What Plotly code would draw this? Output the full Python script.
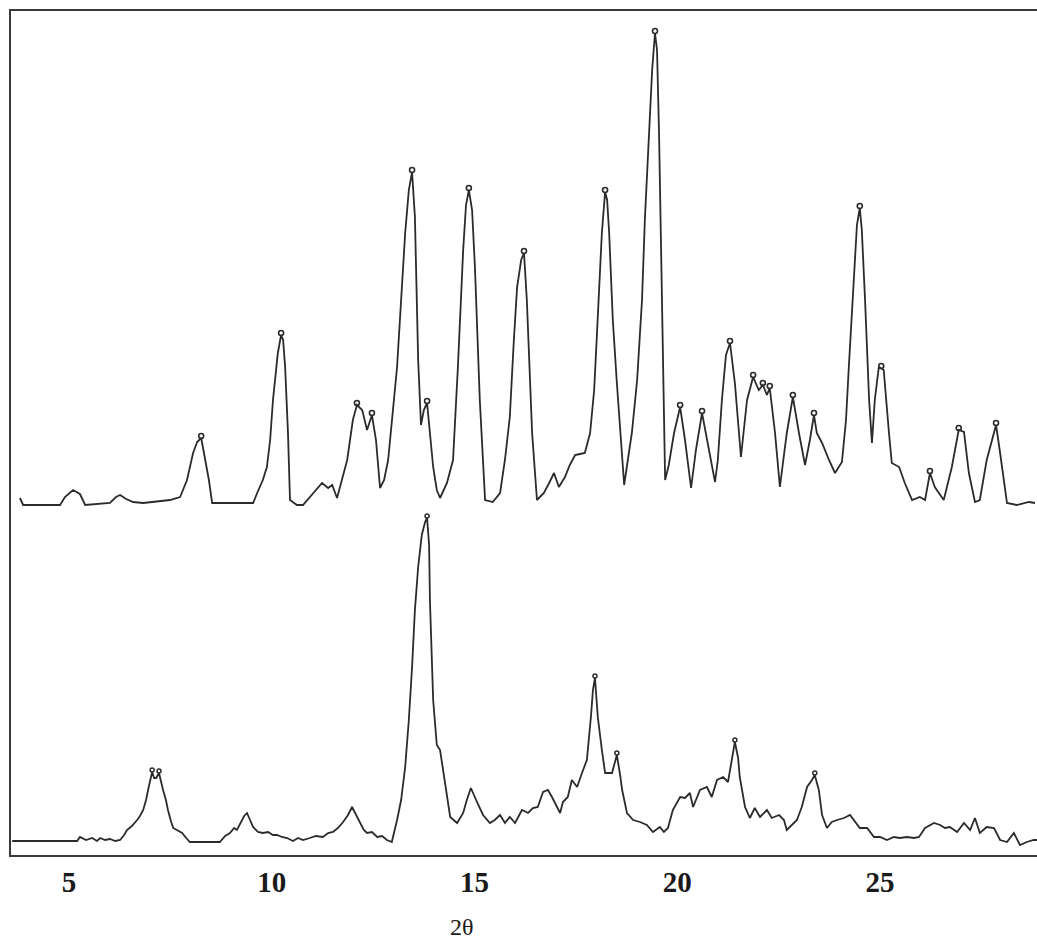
import plotly.graph_objects as go

# ---------------- data (2-theta in degrees, intensity in a.u.) ----------------
top_2theta = [3.79, 3.87, 4.78, 4.90, 5.10, 5.27, 5.40, 6.01, 6.16, 6.26, 6.41, 6.58, 6.83, 7.49, 7.74,
              7.91, 8.06, 8.16, 8.26, 8.35, 8.45, 8.53, 9.54, 9.64, 9.78, 9.88, 9.96, 10.03, 10.10, 10.15,
              10.23, 10.28, 10.33, 10.40, 10.45, 10.62, 10.77, 11.02, 11.24, 11.39, 11.49, 11.61, 11.73,
              11.86, 12.00, 12.10, 12.23, 12.35, 12.47, 12.57, 12.67, 12.77, 12.87, 12.99, 13.09, 13.19,
              13.29, 13.38, 13.46, 13.53, 13.61, 13.68, 13.75, 13.83, 13.90, 13.98, 14.07, 14.15, 14.32,
              14.47, 14.59, 14.72, 14.79, 14.86, 14.94, 15.01, 15.13, 15.26, 15.45, 15.63, 15.75, 15.87,
              15.97, 16.05, 16.15, 16.22, 16.29, 16.37, 16.42, 16.54, 16.71, 16.84, 16.96, 17.08, 17.23,
              17.35, 17.48, 17.60, 17.72, 17.85, 17.95, 18.02, 18.14, 18.22, 18.27, 18.32, 18.41, 18.51,
              18.61, 18.69, 18.78, 18.88, 19.01, 19.13, 19.20, 19.30, 19.38, 19.45, 19.50, 19.55, 19.62,
              19.67, 19.70, 19.79, 19.92, 20.07, 20.19, 20.34, 20.46, 20.61, 20.78, 20.93, 21.00, 21.10,
              21.20, 21.30, 21.42, 21.57, 21.72, 21.87, 22.01, 22.11, 22.21, 22.28, 22.41, 22.53, 22.70,
              22.85, 23.00, 23.15, 23.27, 23.37, 23.44, 23.57, 23.74, 23.89, 24.06, 24.16, 24.23, 24.36,
              24.43, 24.50, 24.55, 24.63, 24.73, 24.80, 24.87, 24.97, 25.09, 25.22, 25.29, 25.47, 25.61,
              25.79, 25.98, 26.11, 26.23, 26.35, 26.57, 26.77, 26.94, 27.07, 27.19, 27.34, 27.46, 27.63,
              27.86, 27.95, 28.13, 28.37, 28.67, 28.82]
top_intensity = [7, 0, 0, 8, 15, 11, 0, 2, 8, 10, 6, 3, 2, 5, 8,
                 25, 52, 63, 67, 48, 25, 2, 2, 12, 25, 38, 65, 105, 135, 152,
                 170, 165, 138, 72, 5, 0, 0, 12, 22, 17, 20, 7, 25,
                 45, 85, 100, 95, 75, 90, 65, 17, 25, 45, 95, 138, 205,
                 272, 315, 333, 288, 145, 80, 95, 102, 75, 38, 15, 7, 22,
                 45, 138, 255, 300, 315, 295, 238, 105, 5, 3, 12, 45, 88,
                 165, 218, 245, 252, 205, 115, 72, 5, 12, 22, 32, 18, 28,
                 40, 50, 51, 52, 72, 115, 172, 272, 313, 305, 272, 185, 122,
                 65, 20, 45, 72, 125, 205, 285, 372, 435, 472, 455, 372, 205,
                 105, 25, 40, 72, 98, 65, 17, 55, 92, 55, 23, 45, 105,
                 150, 162, 122, 48, 105, 128, 115, 120, 110, 117, 72, 18, 72,
                 108, 72, 40, 65, 90, 72, 62, 45, 32, 43, 85, 138, 238,
                 280, 297, 275, 205, 105, 62, 105, 138, 135, 72, 42, 38, 22,
                 5, 8, 5, 32, 18, 5, 38, 75, 73, 32, 3, 5, 45,
                 80, 55, 2, 0, 3, 2]

top_peak_2theta = [8.26, 10.23, 12.10, 12.47, 13.46, 13.83, 14.86, 16.22, 18.22, 19.45, 20.07, 20.61,
                   21.30, 21.87, 22.11, 22.28, 22.85, 23.37, 24.50, 25.03, 26.23, 26.94, 27.86]
top_peak_intensity = [67, 170, 100, 90, 333, 102, 315, 252, 313, 472, 98, 92,
                      162, 128, 120, 117, 108, 90, 297, 137, 32, 75, 80]

bottom_2theta = [3.60, 5.20, 5.27, 5.42, 5.57, 5.69, 5.77, 5.89, 6.01, 6.14, 6.26, 6.36, 6.43, 6.55,
                 6.68, 6.75, 6.83, 6.90, 6.95, 7.05, 7.10, 7.15, 7.22, 7.27, 7.32, 7.39, 7.44, 7.52,
                 7.57, 7.66, 7.79, 7.89, 7.98, 8.72, 8.85, 8.97, 9.07, 9.14, 9.24, 9.32, 9.39, 9.46,
                 9.54, 9.66, 9.78, 9.91, 10.03, 10.13, 10.25, 10.38, 10.52, 10.65, 10.77, 10.94, 11.09,
                 11.26, 11.39, 11.51, 11.63, 11.76, 11.88, 11.98, 12.08, 12.18, 12.27, 12.35, 12.47,
                 12.60, 12.72, 12.84, 12.96, 13.09, 13.19, 13.29, 13.38, 13.46, 13.53, 13.61, 13.70,
                 13.78, 13.83, 13.88, 13.90, 13.98, 14.07, 14.15, 14.27, 14.40, 14.57, 14.72, 14.81,
                 14.91, 15.06, 15.21, 15.38, 15.50, 15.63, 15.75, 15.87, 16.00, 16.17, 16.32, 16.44,
                 16.56, 16.69, 16.81, 16.91, 17.03, 17.11, 17.18, 17.30, 17.40, 17.53, 17.65, 17.77,
                 17.87, 17.92, 17.97, 18.04, 18.14, 18.22, 18.39, 18.51, 18.59, 18.64, 18.76, 18.91,
                 19.08, 19.25, 19.40, 19.57, 19.67, 19.77, 19.89, 20.07, 20.19, 20.31, 20.39, 20.56,
                 20.73, 20.85, 20.98, 21.13, 21.25, 21.35, 21.42, 21.50, 21.54, 21.67, 21.79, 21.91,
                 22.04, 22.21, 22.33, 22.51, 22.63, 22.70, 22.83, 22.95, 23.07, 23.20, 23.32, 23.39,
                 23.49, 23.57, 23.69, 23.81, 23.94, 24.11, 24.26, 24.38, 24.50, 24.68, 24.85, 25.00,
                 25.17, 25.34, 25.49, 25.66, 25.84, 25.96, 26.11, 26.33, 26.48, 26.60, 26.72, 26.90,
                 27.07, 27.22, 27.34, 27.46, 27.63, 27.81, 27.96, 28.13, 28.30, 28.45, 28.62, 28.79,
                 28.87]
bottom_intensity = [14, 14, 18, 15, 17, 14, 17, 15, 16, 14, 15, 20, 25, 29,
                    35, 39, 45, 55, 65, 83, 77, 77, 82, 73, 65, 55, 45, 33,
                    27, 25, 22, 17, 13, 13, 19, 22, 27, 25, 33, 39, 42, 35,
                    28, 23, 22, 23, 20, 20, 18, 17, 14, 17, 15, 17, 19,
                    18, 22, 23, 27, 33, 40, 48, 40, 32, 25, 22, 23,
                    18, 19, 15, 13, 35, 55, 88, 135, 188, 245, 288, 320,
                    333, 337, 310, 255, 155, 110, 105, 75, 38, 32, 42, 55,
                    67, 53, 40, 32, 35, 40, 32, 38, 32, 45, 42, 47,
                    48, 63, 65, 58, 48, 42, 53, 58, 75, 68, 82, 95,
                    138, 165, 177, 138, 105, 82, 82, 100, 80, 65, 42, 35,
                    33, 30, 23, 28, 23, 27, 45, 58, 57, 62, 48, 65,
                    68, 58, 75, 78, 73, 95, 113, 97, 78, 48, 37, 47,
                    38, 45, 37, 40, 35, 25, 30, 35, 48, 68, 75, 80,
                    65, 40, 27, 33, 35, 37, 40, 33, 27, 27, 18, 18,
                    15, 18, 17, 18, 17, 18, 27, 32, 30, 27, 28, 23,
                    32, 25, 37, 22, 28, 27, 15, 13, 22, 10, 13, 15,
                    15]

bottom_peak_2theta = [7.05, 7.22, 13.83, 17.97, 18.51, 21.42, 23.39]
bottom_peak_intensity = [83, 82, 337, 177, 100, 113, 80]

x_ticks = [5, 10, 15, 20, 25]
x_tick_labels = ["<b>5</b>", "<b>10</b>", "<b>15</b>", "<b>20</b>", "<b>25</b>"]
x_title = "2θ"

STACK_OFFSET = 350   # vertical offset of the upper pattern
X_RANGE = [3.57, 28.87]
Y_RANGE = [0, 844]

LINE = "#2b2b2b"

fig = go.Figure()
fig.add_trace(go.Scatter(x=top_2theta, y=[v + STACK_OFFSET for v in top_intensity],
                         mode="lines", line=dict(color=LINE, width=1.8), hoverinfo="skip"))
fig.add_trace(go.Scatter(x=bottom_2theta, y=bottom_intensity,
                         mode="lines", line=dict(color=LINE, width=1.8), hoverinfo="skip"))
fig.add_trace(go.Scatter(x=top_peak_2theta, y=[v + STACK_OFFSET + 2 for v in top_peak_intensity],
                         mode="markers", marker=dict(symbol="circle-open", size=5, color=LINE,
                                                     line=dict(width=1.6, color=LINE)),
                         hoverinfo="skip"))
fig.add_trace(go.Scatter(x=bottom_peak_2theta, y=[v + 2 for v in bottom_peak_intensity],
                         mode="markers", marker=dict(symbol="circle-open", size=4, color=LINE,
                                                     line=dict(width=1.5, color=LINE)),
                         hoverinfo="skip"))

fig.update_layout(
    width=1037, height=940,
    margin=dict(l=11, r=0, t=11, b=85),
    paper_bgcolor="white", plot_bgcolor="white",
    showlegend=False,
    xaxis=dict(range=X_RANGE, tickvals=x_ticks, ticktext=x_tick_labels,
               showgrid=False, zeroline=False, showline=True, linecolor="#3a3a3a", linewidth=2,
               mirror=True, ticks="",
               tickfont=dict(family="Liberation Serif", size=29, color="#1a1a1a")),
    yaxis=dict(range=Y_RANGE, showticklabels=False, showgrid=False, zeroline=False,
               showline=True, linecolor="#3a3a3a", linewidth=2, ticks=""),
    annotations=[dict(text=x_title, x=14.69, xref="x", y=-0.085, yref="paper",
                      showarrow=False, xanchor="center", yanchor="middle",
                      font=dict(family="Liberation Serif", size=24, color="#1a1a1a"))],
)

fig.write_html("out.html", config={"displayModeBar": False},
               post_script="document.body.style.margin='0';")
